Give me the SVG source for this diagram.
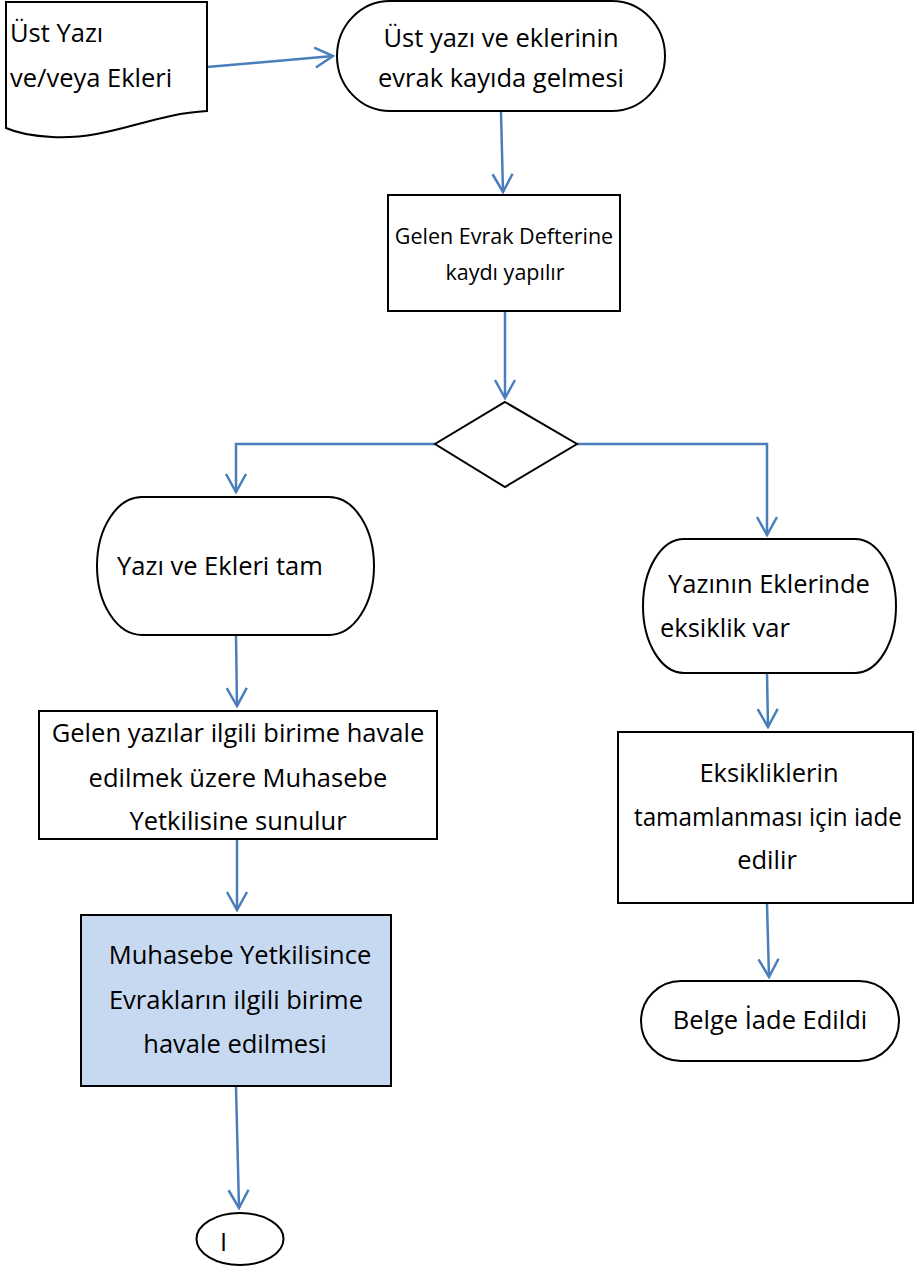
<svg xmlns="http://www.w3.org/2000/svg" width="915" height="1268" viewBox="0 0 915 1268">
<defs>
<style>
.shape{fill:#fff;stroke:#000;stroke-width:2}
.blue{fill:#c6d9f1;stroke:#000;stroke-width:2}
.conn{fill:none;stroke:#4a7ebb;stroke-width:2.5;marker-end:url(#arr)}
text{font-family:"Open Sans",Lato,"DejaVu Sans",sans-serif;fill:#000;font-size:25.5px}
.c{text-anchor:middle}
.s{font-size:21.5px}
</style>
<marker id="arr" markerUnits="userSpaceOnUse" viewBox="-2 -2 22 24" refX="18" refY="10" markerWidth="22" markerHeight="24" orient="auto">
<path d="M0,0 L18,10 L0,20" fill="none" stroke="#4a7ebb" stroke-width="2.5"/>
</marker>
</defs>
<rect width="915" height="1268" fill="#fff"/>
<g id="connectors">
<path class="conn" d="M207,67 L333,56"/>
<path class="conn" d="M501,112 L503,192"/>
<path class="conn" d="M505,312 L505,398"/>
<path class="conn" d="M435,444 L236,444 L236,492"/>
<path class="conn" d="M577,444 L767,444 L767,535"/>
<path class="conn" d="M236,635 L237,706"/>
<path class="conn" d="M237,840 L237,910"/>
<path class="conn" d="M236,1087 L239,1208"/>
<path class="conn" d="M767,673 L768,727"/>
<path class="conn" d="M767,904 L769,977"/>
</g>
<g id="doc">
<path class="shape" d="M6,2 L207,2 L207,111 C150,114 110,140 52,137 C30,136 15,132 6,128 Z"/>
<text x="10" y="42">Üst Yazı</text>
<text x="10" y="87">ve/veya Ekleri</text>
</g>
<g id="start">
<rect class="shape" x="337" y="1" width="328" height="110" rx="53" ry="55"/>
<text class="c" x="501" y="47">Üst yazı ve eklerinin</text>
<text class="c" x="501" y="87">evrak kayıda gelmesi</text>
</g>
<g id="register">
<rect class="shape" x="388" y="195" width="232" height="116"/>
<text class="c s" x="504" y="244">Gelen Evrak Defterine</text>
<text class="c s" x="505" y="280">kaydı yapılır</text>
</g>
<g id="decision">
<path class="shape" d="M505,402 L577,444 L505,487 L435,444 Z"/>
</g>
<g id="complete">
<rect class="shape" x="97" y="497" width="277" height="138" rx="45" ry="69"/>
<text x="117" y="575">Yazı ve Ekleri tam</text>
</g>
<g id="present">
<rect class="shape" x="39" y="711" width="398" height="128"/>
<text class="c" x="238" y="742">Gelen yazılar ilgili birime havale</text>
<text class="c" x="238" y="787">edilmek üzere Muhasebe</text>
<text class="c" x="238" y="830">Yetkilisine sunulur</text>
</g>
<g id="assign">
<rect class="blue" x="81" y="915" width="310" height="171"/>
<text class="c" x="240" y="964">Muhasebe Yetkilisince</text>
<text class="c" x="236" y="1009">Evrakların ilgili birime</text>
<text class="c" x="235" y="1053">havale edilmesi</text>
</g>
<g id="connector-I">
<ellipse class="shape" cx="240" cy="1239" rx="43.5" ry="26"/>
<text x="220" y="1251">I</text>
</g>
<g id="missing">
<rect class="shape" x="643" y="539" width="253" height="134" rx="41" ry="67"/>
<text x="668" y="593">Yazının Eklerinde</text>
<text x="660" y="637">eksiklik var</text>
</g>
<g id="return">
<rect class="shape" x="618" y="732" width="295" height="171"/>
<text class="c" x="769" y="782">Eksikliklerin</text>
<text class="c" x="768" y="826" textLength="268" lengthAdjust="spacingAndGlyphs">tamamlanması için iade</text>
<text class="c" x="767" y="869">edilir</text>
</g>
<g id="returned">
<rect class="shape" x="641" y="981" width="258" height="80" rx="40" ry="40"/>
<text class="c" x="770" y="1029">Belge İade Edildi</text>
</g>
</svg>
